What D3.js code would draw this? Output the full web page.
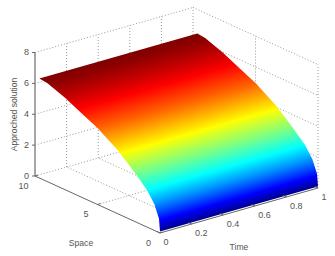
<!DOCTYPE html>
<html>
<head>
<meta charset="utf-8">
<script src="https://cdnjs.cloudflare.com/ajax/libs/d3/7.8.5/d3.min.js"></script>
<style>
html, body { margin: 0; padding: 0; background: #fff; }
svg { display: block; }
text { font-family: "Liberation Sans", Arial, sans-serif; font-size: 9px; fill: #555; }
</style>
</head>
<body>
<div id="chart"></div>
<script>
// values
var spaceValues = [0, 0.08, 0.45, 1.04, 2, 3.36, 5, 6.3, 7.6, 8.4, 9, 9.65];
var solutionValues = [0.1, 0.9, 1.7, 2.4, 3.15, 4.1, 4.95, 5.45, 5.95, 6.2, 6.38, 6.45];
var timeRange = [0, 1];
var timeTicks = [0, 0.2, 0.4, 0.6, 0.8, 1];
var spaceTicks = [0, 5, 10];
var zTicks = [0, 2, 4, 6, 8];

var svgWidth = 335;
var svgHeight = 256;

var svg = d3.select("#chart")
    .append("svg")
    .attr("width", svgWidth)
    .attr("height", svgHeight);

// orthographic view: each data axis moves the point along a fixed screen direction
var tX = d3.scaleLinear().domain([0, 1]).range([0, 158]);
var tY = d3.scaleLinear().domain([0, 1]).range([0, -45]);
var sX = d3.scaleLinear().domain([0, 10]).range([0, -125]);
var sY = d3.scaleLinear().domain([0, 10]).range([0, -57]);
var zY = d3.scaleLinear().domain([0, 8]).range([0, -123.5]);

function project(s, t, z) {
    return [160 + sX(s) + tX(t), 233 + sY(s) + tY(t) + zY(z)];
}

function line3d(a, b, color, dash, width) {
    var p = project(a[0], a[1], a[2]);
    var q = project(b[0], b[1], b[2]);
    svg.append("line")
        .attr("x1", p[0]).attr("y1", p[1])
        .attr("x2", q[0]).attr("y2", q[1])
        .attr("stroke", color)
        .attr("stroke-width", width || 1)
        .attr("stroke-dasharray", dash || null);
}

var gridColor = "#999";
var gridDash = "1,2";

// back walls and floor grid
zTicks.forEach(function (z) {
    line3d([10, 0, z], [10, 1, z], gridColor, gridDash);
    line3d([10, 1, z], [0, 1, z], gridColor, gridDash);
});
timeTicks.forEach(function (t) {
    if (t > 0) line3d([10, t, 0], [10, t, 8], gridColor, gridDash);
    if (t > 0 && t < 1) line3d([0, t, 0], [10, t, 0], gridColor, gridDash);
});
spaceTicks.forEach(function (s) {
    if (s < 10) line3d([s, 1, 0], [s, 1, 8], gridColor, gridDash);
    if (s > 0 && s < 10) line3d([s, 0, 0], [s, 1, 0], gridColor, gridDash);
});

// jet colormap
var jet = d3.scaleLinear()
    .domain([0, 0.11, 0.36, 0.61, 0.86, 1])
    .range(["#00008f", "#0000ff", "#00ffff", "#ffff00", "#ff0000", "#800000"])
    .clamp(true);
var zColor = d3.scaleLinear()
    .domain([d3.min(solutionValues), d3.max(solutionValues)])
    .range([0, 1]);

// the surface only varies with space, so the colour bands are all parallel to
// the time direction and one gradient across them covers the whole sheet
var start = project(0, 0, 0);
var tipT = project(0, 1, 0);
var dir = [tipT[0] - start[0], tipT[1] - start[1]];
var dirLen = Math.hypot(dir[0], dir[1]);
var normal = [dir[1] / dirLen, -dir[0] / dirLen];

function offset(p) {
    return (p[0] - start[0]) * normal[0] + (p[1] - start[1]) * normal[1];
}

var offsets = spaceValues.map(function (s, i) { return offset(project(s, 0, solutionValues[i])); });
var maxOffset = d3.max(offsets);
var first = offsets[0];

var gradient = svg.append("defs").append("linearGradient")
    .attr("id", "surfaceFill")
    .attr("gradientUnits", "userSpaceOnUse")
    .attr("x1", start[0] + normal[0] * first)
    .attr("y1", start[1] + normal[1] * first)
    .attr("x2", start[0] + normal[0] * maxOffset)
    .attr("y2", start[1] + normal[1] * maxOffset);

// stops between readings follow the colormap, not new data
spaceValues.forEach(function (s, i) {
    if (i == spaceValues.length - 1) return;
    d3.range(0, 1, 0.125).forEach(function (f) {
        var o = offsets[i] + (offsets[i + 1] - offsets[i]) * f;
        var z = solutionValues[i] + (solutionValues[i + 1] - solutionValues[i]) * f;
        gradient.append("stop")
            .attr("offset", (o - first) / (maxOffset - first))
            .attr("stop-color", jet(zColor(z)));
    });
});
gradient.append("stop").attr("offset", 1).attr("stop-color", jet(1));

// outline: profile at t=0 up the space axis, then back down at t=1
var outline = spaceValues.map(function (s, i) { return project(s, timeRange[0], solutionValues[i]); })
    .concat(spaceValues.map(function (s, i) { return project(s, timeRange[1], solutionValues[i]); }).reverse());

svg.append("path")
    .attr("d", d3.line()(outline) + "Z")
    .attr("fill", "url(#surfaceFill)");

// axes
var axisColor = "#666";
line3d([10, 0, 0], [10, 0, 8], "#888", null, 1.5);
line3d([0, 0, 0], [10, 0, 0], axisColor);
line3d([0, 0, 0], [0, 1, 0], axisColor);

// z ticks
zTicks.forEach(function (z) {
    var p = project(10, 0, z);
    svg.append("line")
        .attr("x1", p[0] - 3).attr("y1", p[1])
        .attr("x2", p[0]).attr("y2", p[1])
        .attr("stroke", axisColor);
    svg.append("text")
        .attr("x", p[0] - 6).attr("y", p[1] + 2.5)
        .attr("text-anchor", "end")
        .text(z);
});

// time ticks
timeTicks.forEach(function (t) {
    var p = project(0, t, 0);
    svg.append("line")
        .attr("x1", p[0]).attr("y1", p[1])
        .attr("x2", p[0] - 3).attr("y2", p[1] - 1.5)
        .attr("stroke", axisColor);
    svg.append("text")
        .attr("x", p[0] + 3.5).attr("y", p[1] + 12)
        .text(t);
});

// space ticks
spaceTicks.forEach(function (s) {
    var p = project(s, 0, 0);
    svg.append("line")
        .attr("x1", p[0]).attr("y1", p[1])
        .attr("x2", p[0] + 3).attr("y2", p[1] - 1)
        .attr("stroke", axisColor);
    svg.append("text")
        .attr("x", p[0] - 11.5).attr("y", p[1] + 12.5)
        .attr("text-anchor", "middle")
        .text(s);
});

// axis titles
svg.append("text").attr("x", 81).attr("y", 246).attr("text-anchor", "middle").style("font-size", "8.6px").text("Space");
svg.append("text").attr("x", 239).attr("y", 250).attr("text-anchor", "middle").style("font-size", "8.6px").text("Time");
svg.append("text")
    .attr("transform", "translate(17,114.5) rotate(-90)")
    .attr("text-anchor", "middle")
    .style("font-size", "8.6px")
    .text("Approched solution");
</script>
</body>
</html>
